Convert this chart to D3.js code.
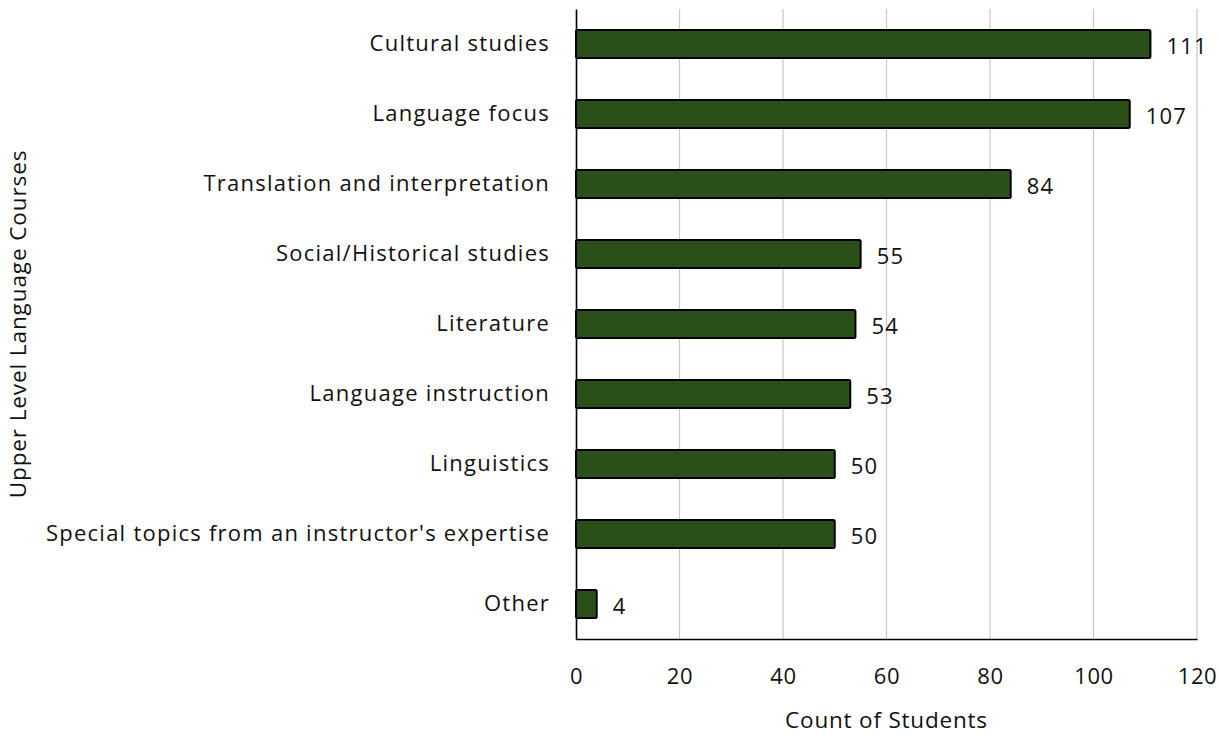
<!DOCTYPE html>
<html>
<head>
<meta charset="utf-8">
<script src="https://cdn.jsdelivr.net/npm/d3@7"></script>
<style>
  body { margin: 0; background: #fff; }
  svg { display: block; font-family: "Open Sans", sans-serif; }
</style>
</head>
<body>
<div id="chart"></div>
<script>
const categories = [
  'Cultural studies',
  'Language focus',
  'Translation and interpretation',
  'Social/Historical studies',
  'Literature',
  'Language instruction',
  'Linguistics',
  "Special topics from an instructor's expertise",
  'Other'
];
const counts = [111, 107, 84, 55, 54, 53, 50, 50, 4];
const xTicks = [0, 20, 40, 60, 80, 100, 120];

const width = 1219, height = 735;
const margin = { top: 9, right: 22, bottom: 96, left: 576 };

const svg = d3.select('#chart').append('svg')
  .attr('width', width)
  .attr('height', height);

const x = d3.scaleLinear()
  .domain([0, 120])
  .range([margin.left, width - margin.right]);

const y = d3.scaleBand()
  .domain(categories)
  .range([margin.top, height - margin.bottom])
  .paddingInner(0.6)
  .paddingOuter(0.3);

// gridlines
svg.append('g')
  .selectAll('line')
  .data(xTicks.slice(1))
  .join('line')
  .attr('x1', d => x(d)).attr('x2', d => x(d))
  .attr('y1', margin.top).attr('y2', height - margin.bottom)
  .attr('stroke', '#c8c8c8')
  .attr('stroke-width', 1.2);

// x axis
const xAxis = svg.append('g')
  .attr('transform', `translate(0, ${height - margin.bottom})`)
  .call(d3.axisBottom(x).tickValues(xTicks).tickSize(0).tickPadding(29));
xAxis.select('.domain').attr('stroke', '#000').attr('stroke-width', 1.6);
xAxis.selectAll('text')
  .attr('font-size', 22)
  .attr('letter-spacing', 0.6)
  .attr('fill', '#111')
  .attr('font-family', '"Open Sans", sans-serif');

// y axis
const yAxis = svg.append('g')
  .attr('transform', `translate(${margin.left}, 0)`)
  .call(d3.axisLeft(y).tickSize(0).tickPadding(26));
yAxis.select('.domain').attr('stroke', '#000').attr('stroke-width', 1.6);
yAxis.selectAll('text')
  .attr('font-size', 22)
  .attr('letter-spacing', 1.25)
  .attr('fill', '#111')
  .attr('font-family', '"Open Sans", sans-serif');

// bars
svg.append('g')
  .selectAll('rect')
  .data(categories)
  .join('rect')
  .attr('x', x(0))
  .attr('y', d => y(d))
  .attr('width', (d, i) => x(counts[i]) - x(0))
  .attr('height', y.bandwidth())
  .attr('fill', '#2a4f18')
  .attr('stroke', '#000')
  .attr('stroke-width', 2)
  .attr('rx', 1.5);

// value labels
svg.append('g')
  .selectAll('text')
  .data(categories)
  .join('text')
  .attr('x', (d, i) => x(counts[i]) + 16)
  .attr('y', d => y(d) + y.bandwidth() / 2 + 2)
  .attr('dy', '0.35em')
  .attr('font-size', 22)
  .attr('letter-spacing', 1.2)
  .attr('fill', '#111')
  .text((d, i) => counts[i]);

// axis titles
svg.append('text')
  .attr('x', (margin.left + width - margin.right) / 2)
  .attr('y', 728)
  .attr('text-anchor', 'middle')
  .attr('font-size', 22.5)
  .attr('letter-spacing', 0.8)
  .attr('fill', '#111')
  .text('Count of Students');

svg.append('text')
  .attr('transform', `translate(26, ${(margin.top + height - margin.bottom) / 2}) rotate(-90)`)
  .attr('text-anchor', 'middle')
  .attr('font-size', 22.5)
  .attr('letter-spacing', 0.9)
  .attr('fill', '#111')
  .text('Upper Level Language Courses');
</script>
</body>
</html>
